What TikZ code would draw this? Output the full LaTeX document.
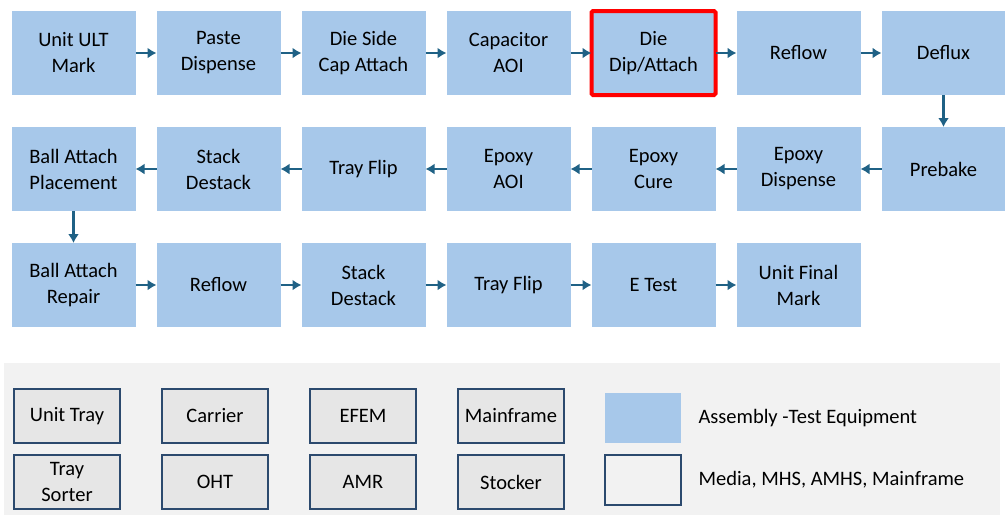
\documentclass[tikz,border=0pt]{standalone}
\usepackage{fontspec}
\setmainfont{Carlito}
\usepackage{tikz}
\usetikzlibrary{arrows.meta, positioning, calc}
\usepackage{xcolor}
\definecolor{stepblue}{HTML}{A7C8EA}
\definecolor{flowblue}{HTML}{1F6185}
\definecolor{mediagray}{HTML}{E6E6E6}
\definecolor{panelgray}{HTML}{F2F2F2}
\definecolor{edgeblue}{HTML}{2C4A6E}
\tikzstyle{pnode} = [%
  rectangle,
  fill=stepblue,
  minimum width=124pt,
  minimum height=84pt,
  align=center,
  text centered,
  inner sep=1pt,
  outer sep=0pt
]
\tikzstyle{mnode} = [%
  rectangle,
  draw=edgeblue,
  line width=1.2pt,
  fill=mediagray,
  minimum width=106pt,
  minimum height=54pt,
  align=center,
  text centered,
  inner sep=1pt,
  outer sep=0pt
]

\begin{document}
\begin{tikzpicture}[%
  >={Latex[length=9pt,width=11pt]},
  every node/.style={%
    font=\fontsize{20.5}{26}\selectfont,
    text=black
  },
  flow/.style={->,draw=flowblue,line width=2.8pt},
  legend/.style={minimum width=76pt,minimum height=50pt,inner sep=0pt,outer sep=0pt}
]
  \useasboundingbox (0,0) rectangle (1005pt,-515pt);

  % Row 1
  \node[pnode] (S1) at (73.5pt,-53pt) {Unit ULT\\Mark};
  \node[pnode,right=21pt of S1] (S2) {Paste\\Dispense};
  \node[pnode,right=21pt of S2] (S3) {Die Side\\Cap Attach};
  \node[pnode,right=21pt of S3] (S4) {Capacitor\\AOI};
  \node[pnode,right=21pt of S4,draw=red,line width=4pt,rounded corners=1.5pt] (S5) {Die\\Dip/Attach};
  \node[pnode,right=21pt of S5] (S6) {Reflow};
  \node[pnode,right=21pt of S6] (S7) {Deflux};

  % Row 2
  \node[pnode,below=32pt of S7] (S8) {Prebake};
  \node[pnode,left=21pt of S8] (S9) {Epoxy\\Dispense};
  \node[pnode,left=21pt of S9] (S10) {Epoxy\\Cure};
  \node[pnode,left=21pt of S10] (S11) {Epoxy\\AOI};
  \node[pnode,left=21pt of S11] (S12) {Tray Flip};
  \node[pnode,left=21pt of S12] (S13) {Stack\\Destack};
  \node[pnode,left=21pt of S13] (S14) {Ball Attach\\Placement};

  % Row 3
  \node[pnode,below=32pt of S14] (S15) {Ball Attach\\Repair};
  \node[pnode,right=21pt of S15] (S16) {Reflow};
  \node[pnode,right=21pt of S16] (S17) {Stack\\Destack};
  \node[pnode,right=21pt of S17] (S18) {Tray Flip};
  \node[pnode,right=21pt of S18] (S19) {E Test};
  \node[pnode,right=21pt of S19] (S20) {Unit Final\\Mark};

  % Flow edges
  \foreach \a/\b in {S1/S2,S2/S3,S3/S4,S4/S5,S5/S6,S6/S7,
                     S8/S9,S9/S10,S10/S11,S11/S12,S12/S13,S13/S14,
                     S15/S16,S16/S17,S17/S18,S18/S19,S19/S20}
    \draw[flow] (\a) -- (\b);
  \draw[flow] (S7) -- (S8);
  \draw[flow] (S14) -- (S15);

  % Legend panel
  \fill[panelgray] (4pt,-363pt) rectangle (1000pt,-515pt);
  \node[mnode] (M1) at (67pt,-416pt) {Unit Tray};
  \node[mnode,below=12pt of M1] (M2) {Tray\\Sorter};
  \node[mnode,right=42pt of M1] (M3) {Carrier};
  \node[mnode,below=12pt of M3] (M4) {OHT};
  \node[mnode,right=42pt of M3] (M5) {EFEM};
  \node[mnode,below=12pt of M5] (M6) {AMR};
  \node[mnode,right=42pt of M5] (M7) {Mainframe};
  \node[mnode,below=12pt of M7] (M8) {Stocker};

  \node[legend,fill=stepblue] (L1) at (643pt,-418pt) {};
  \node[legend,draw=edgeblue,line width=1.2pt,fill=panelgray,below=12pt of L1] (L2) {};
  \node[anchor=west,right=14pt of L1] (T1) {Assembly -Test Equipment};
  \node[anchor=west,right=14pt of L2] (T2) {Media, MHS, AMHS, Mainframe};

\end{tikzpicture}
\end{document}
